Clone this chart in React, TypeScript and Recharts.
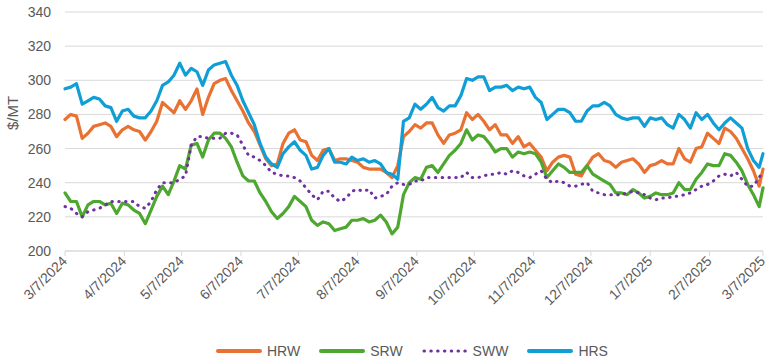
import React from "react";
import { LineChart, Line, XAxis, YAxis, CartesianGrid } from "recharts";

// days since 3/7/2024
const days = [
  0, 3, 6, 9, 12, 15, 18, 21, 24, 27, 30, 33, 36, 39, 42, 45, 48, 51, 54, 57,
  60, 63, 66, 69, 72, 75, 78, 81, 84, 87, 90, 93, 96, 99, 102, 105, 108, 111,
  114, 117, 120, 123, 126, 129, 132, 135, 138, 141, 144, 147, 150, 153, 156,
  159, 162, 165, 168, 171, 174, 177, 180, 183, 186, 189, 192, 195, 198, 201,
  204, 207, 210, 213, 216, 219, 222, 225, 228, 231, 234, 237, 240, 243, 246,
  249, 252, 255, 258, 261, 264, 267, 270, 273, 276, 279, 282, 285, 288, 291,
  294, 297, 300, 303, 306, 309, 312, 315, 318, 321, 324, 327, 330, 333, 336,
  339, 342, 345, 348, 351, 354, 357, 360, 363, 365,
];

const hrw = [
  277, 280, 279, 266, 269, 273, 274, 275, 273, 267, 271, 273, 271, 270, 265,
  270, 276, 287, 284, 281, 288, 283, 288, 295, 280, 290, 298, 300, 301, 294,
  288, 282, 275, 270, 262, 254, 250, 251, 263, 269, 271, 265, 264, 256, 253,
  259, 260, 253, 254, 254, 253, 252, 249, 248, 248, 248, 246, 243, 250, 267,
  270, 274, 272, 275, 275, 268, 263, 268, 269, 271, 281, 277, 280, 276, 271,
  274, 268, 268, 263, 267, 261, 263, 259, 255, 247, 252, 255, 256, 255, 245,
  244, 250, 255, 257, 253, 252, 249, 252, 253, 254, 251, 246, 250, 251, 253,
  251, 251, 260, 254, 252, 260, 261, 269, 266, 263, 272, 270, 266, 260, 254,
  247, 238, 248,
];

const srw = [
  234, 229, 229, 220, 227, 229, 229, 227, 228, 222, 228, 227, 224, 222, 216,
  224, 232, 238, 233, 241, 250, 248, 262, 263, 255, 265, 269, 269, 266, 261,
  252, 244, 241, 241, 234, 229, 223, 219, 222, 226, 232, 229, 226, 218, 215,
  217, 216, 212, 213, 214, 218, 218, 219, 217, 218, 221, 217, 210, 214, 233,
  240, 243, 242, 249, 250, 246, 251, 256, 259, 263, 271, 265, 268, 267, 263,
  258, 260, 260, 255, 258, 257, 258, 257, 252, 243, 247, 251, 249, 246, 246,
  246, 250, 245, 243, 241, 239, 234, 234, 233, 236, 234, 231, 232, 234, 233,
  233, 234, 240, 236, 236, 242, 246, 251, 250, 250, 257, 256, 252, 247, 239,
  233, 226, 237,
];

const sww = [
  226, 225, 222, 220, 223, 224, 225, 227, 229, 229, 229, 229, 229, 226, 225,
  229, 236, 240, 240, 240, 242, 244, 262, 267, 267, 266, 266, 266, 269, 269,
  268, 262, 256, 255, 253, 250, 246, 245, 244, 244, 243, 241, 237, 233, 230,
  235, 235, 231, 229, 231, 235, 236, 235, 236, 231, 232, 233, 238, 240, 239,
  239, 241, 241, 243, 243, 243, 243, 243, 243, 243, 246, 243, 243, 244, 245,
  245, 246, 245, 247, 246, 244, 243, 245, 247, 242, 240, 241, 240, 238, 238,
  239, 240, 235, 234, 233, 233, 233, 233, 234, 235, 234, 233, 231, 230, 231,
  231, 232, 232, 233, 234, 236, 238, 239, 241, 244, 245, 244, 246, 242, 238,
  238, 243, 247,
];

const hrs = [
  295, 296, 298, 286, 288, 290, 289, 285, 284, 276, 282, 283, 279, 278, 278,
  282, 288, 297, 299, 303, 310, 303, 307, 305, 297, 306, 309, 310, 311, 303,
  297, 288, 281, 274, 263, 255, 251, 249, 257, 261, 264, 259, 256, 248, 249,
  256, 260, 252, 252, 251, 255, 253, 254, 252, 253, 251, 246, 245, 242, 276,
  278, 286, 283, 286, 290, 284, 282, 285, 285, 291, 301, 300, 302, 302, 294,
  296, 296, 297, 294, 296, 295, 296, 290, 287, 277, 280, 283, 283, 281, 276,
  276, 282, 285, 285, 287, 285, 280, 278, 277, 278, 278, 273, 278, 277, 278,
  274, 272, 280, 277, 272, 281, 277, 280, 275, 271, 275, 278, 275, 272, 260,
  253, 249, 257,
];

const tickDays = [0, 31, 61, 92, 122, 153, 184, 214, 245, 275, 306, 337, 365];
const tickLabels = [
  "3/7/2024", "4/7/2024", "5/7/2024", "6/7/2024", "7/7/2024", "8/7/2024",
  "9/7/2024", "10/7/2024", "11/7/2024", "12/7/2024", "1/7/2025", "2/7/2025",
  "3/7/2025",
];
const yTicks = [200, 220, 240, 260, 280, 300, 320, 340];

const series = [
  { key: "HRW", values: hrw, color: "#E97132", dotted: false },
  { key: "SRW", values: srw, color: "#4EA72E", dotted: false },
  { key: "SWW", values: sww, color: "#7030A0", dotted: true },
  { key: "HRS", values: hrs, color: "#0F9ED5", dotted: false },
];

const data = days.map((d, i) => {
  const row: Record<string, number> = { day: d };
  series.forEach((s) => {
    row[s.key] = s.values[i];
  });
  return row;
});

const FONT = "'Liberation Sans', Arial, sans-serif";
const TEXT = "#595959";
const GRID = "#D9D9D9";

const DateTick = (props: any) => {
  const { x, y, payload } = props;
  const i = tickDays.indexOf(payload.value);
  const ax = x + 3;
  const ay = y + 4;
  return (
    <text
      x={ax}
      y={ay}
      textAnchor="end"
      transform={`rotate(-45 ${ax} ${ay})`}
      fill={TEXT}
      fontSize={14}
      fontFamily={FONT}
    >
      {tickLabels[i]}
    </text>
  );
};

const YTitle = () => (
  <text
    x={18}
    y={113}
    textAnchor="middle"
    transform="rotate(-90 18 113)"
    fill={TEXT}
    fontSize={15}
    fontFamily={FONT}
  >
    $/MT
  </text>
);

function LegendRow() {
  return (
    <div
      style={{
        position: "absolute",
        left: 215,
        top: 343,
        display: "flex",
        alignItems: "center",
        fontFamily: FONT,
        fontSize: 14,
        color: TEXT,
      }}
    >
      {series.map((s) => (
        <div key={s.key} style={{ display: "flex", alignItems: "center", marginRight: 18 }}>
          <svg width={48} height={10} style={{ marginRight: 4 }}>
            <line
              x1={3}
              y1={5}
              x2={45}
              y2={5}
              stroke={s.color}
              strokeWidth={s.dotted ? 3 : 4}
              strokeLinecap="round"
              strokeDasharray={s.dotted ? "0.5 6.3" : undefined}
            />
          </svg>
          <span>{s.key}</span>
        </div>
      ))}
    </div>
  );
}

export default function App() {
  return (
    <div
      style={{
        position: "fixed",
        left: 0,
        top: 0,
        width: 776,
        height: 364,
        background: "#fff",
      }}
    >
      <LineChart
        width={776}
        height={364}
        data={data}
        margin={{ top: 12, right: 13, bottom: 0, left: 0 }}
      >
        <CartesianGrid vertical={false} stroke={GRID} strokeWidth={1} />
        <XAxis
          dataKey="day"
          type="number"
          domain={[0, 365]}
          ticks={tickDays}
          interval={0}
          height={113}
          tickSize={5}
          tickMargin={2}
          stroke={GRID}
          axisLine={{ stroke: GRID }}
          tickLine={{ stroke: GRID }}
          tick={<DateTick />}
        />
        <YAxis
          type="number"
          domain={[200, 340]}
          ticks={yTicks}
          interval={0}
          width={65}
          axisLine={false}
          tickLine={false}
          tickSize={0}
          tickMargin={14}
          tick={{ fill: TEXT, fontSize: 14, fontFamily: FONT }}
          label={{ content: <YTitle /> }}
        />
        {series.map((s) => (
          <Line
            key={s.key}
            type="linear"
            dataKey={s.key}
            stroke={s.color}
            strokeWidth={s.dotted ? 3 : 3.2}
            strokeDasharray={s.dotted ? "0.5 6.3" : undefined}
            strokeLinecap="round"
            strokeLinejoin="round"
            dot={false}
            activeDot={false}
            isAnimationActive={false}
          />
        ))}
      </LineChart>
      <LegendRow />
    </div>
  );
}
